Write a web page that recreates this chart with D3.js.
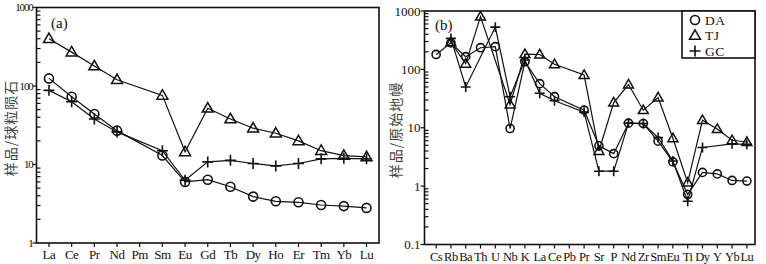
<!DOCTYPE html>
<html>
<head>
<meta charset="utf-8">
<script src="https://d3js.org/d3.v7.min.js"></script>
<style>
  body { margin: 0; background: #fff; }
  svg text { font-family: "Liberation Serif", "Times New Roman", serif; fill: #111; }
  .cn { font-family: "Noto Sans CJK SC", sans-serif; }
</style>
</head>
<body>
<script>
// chondrite-normalised REE (panel a)
var reeCats = ["La","Ce","Pr","Nd","Pm","Sm","Eu","Gd","Tb","Dy","Ho","Er","Tm","Yb","Lu"];
var reeDA = [125, 73, 44, 27, null, 13, 6, 6.4, 5.2, 3.9, 3.4, 3.3, 3.05, 2.95, 2.8];
var reeTJ = [400, 270, 180, 120, null, 76, 14.5, 52, 38, 29, 25, 20, 15, 13, 12.5];
var reeGC = [88, 63, 38, 26, null, 15, 6.3, 10.8, 11.3, 10.3, 9.6, 10.3, 11.8, 12, 11.8];

// primitive-mantle-normalised spider (panel b)
var spCats = ["Cs","Rb","Ba","Th","U","Nb","K","La","Ce","Pb","Pr","Sr","P","Nd","Zr","Sm","Eu","Ti","Dy","Y","Yb","Lu"];
var spDA = [180, 285, 165, 235, 245, 9.7, 135, 57, 34, null, 20, 4.9, 3.6, 12, 11.8, 5.9, 2.6, 0.72, 1.72, 1.62, 1.25, 1.22];
var spTJ = [null, 290, 125, 800, null, 25, 182, 180, 122, null, 80, 4, 27, 55, 20, 33, 6.6, 1.15, 13.5, 9.5, 6.1, 5.7];
var spGC = [null, 340, 50, null, 530, 34, 145, 39, 29, null, 18.5, 1.8, 1.8, 12, 11.8, 6.8, 2.7, 0.55, 4.6, null, 5.3, 5.2];

var legendNames = ["DA", "TJ", "GC"];

var width = 766, height = 264;

var svg = d3.select("body").append("svg")
  .attr("width", width)
  .attr("height", height);

// marker drawing
function marker(g, kind, x, y, s) {
  if (kind == "circle") {
    g.append("circle").attr("cx", x).attr("cy", y).attr("r", s * 0.45)
      .attr("fill", "none").attr("stroke", "#111").attr("stroke-width", 1.6);
  } else if (kind == "triangle") {
    var h = s * 0.95;
    g.append("path")
      .attr("d", "M" + x + "," + (y - h * 0.6) + "L" + (x + s * 0.55) + "," + (y + h * 0.4) + "L" + (x - s * 0.55) + "," + (y + h * 0.4) + "Z")
      .attr("fill", "none").attr("stroke", "#111").attr("stroke-width", 1.5);
  } else {
    g.append("path")
      .attr("d", "M" + (x - s * 0.55) + "," + y + "H" + (x + s * 0.55) + "M" + x + "," + (y - s * 0.55) + "V" + (y + s * 0.55))
      .attr("stroke", "#111").attr("stroke-width", 1.6);
  }
}

function drawPanel(p) {
  var g = svg.append("g");

  var x = d3.scalePoint().domain(p.cats).range([p.x0, p.x1]).padding(p.pad);
  var y = d3.scaleLog().domain(p.domain).range([p.y1, p.y0]);

  // frame
  g.append("rect")
    .attr("x", p.fx0).attr("y", p.y0)
    .attr("width", p.fx1 - p.fx0).attr("height", p.y1 - p.y0)
    .attr("fill", "none").attr("stroke", "#111").attr("stroke-width", 1.6);

  // y axis: major ticks outward, minor ticks inward
  var majors = y.ticks().filter(function(d) { return Math.abs(Math.log10(d) - Math.round(Math.log10(d))) < 1e-6; });
  var minors = y.ticks().filter(function(d) { return majors.indexOf(d) < 0; });

  g.selectAll(".ymaj").data(majors).enter().append("line")
    .attr("x1", p.fx0 - 4).attr("x2", p.fx0)
    .attr("y1", function(d) { return y(d); }).attr("y2", function(d) { return y(d); })
    .attr("stroke", "#111").attr("stroke-width", 1.2);

  g.selectAll(".ymin").data(minors).enter().append("line")
    .attr("x1", p.fx0).attr("x2", p.fx0 + 4)
    .attr("y1", function(d) { return y(d); }).attr("y2", function(d) { return y(d); })
    .attr("stroke", "#111").attr("stroke-width", 1.2);

  g.selectAll(".ylab").data(majors).enter().append("text")
    .attr("x", p.fx0 - 4).attr("y", function(d) { return y(d); })
    .attr("dy", "0.35em")
    .attr("text-anchor", "end")
    .style("font-size", p.yFont + "px")
    .style("letter-spacing", p.ySpace + "px")
    .text(function(d) { return d3.format("~g")(d); });

  // x ticks and labels
  g.selectAll(".xt").data(p.cats).enter().append("line")
    .attr("x1", function(d) { return x(d); }).attr("x2", function(d) { return x(d); })
    .attr("y1", p.y1).attr("y2", p.y1 + 4)
    .attr("stroke", "#111").attr("stroke-width", 1.2);

  g.selectAll(".xl").data(p.cats).enter().append("text")
    .attr("x", function(d) { return x(d); })
    .attr("y", p.y1 + 16)
    .attr("text-anchor", "middle")
    .style("font-size", p.xFont + "px")
    .style("letter-spacing", "-0.5px")
    .text(function(d) { return d; });

  // y title
  g.append("text")
    .attr("class", "cn")
    .attr("transform", "translate(" + p.titleX + "," + p.titleY + ") rotate(-90)")
    .attr("text-anchor", "middle")
    .attr("dy", "0.35em")
    .style("font-size", "14px")
    .style("fill", "#444")
    .style("letter-spacing", "1px")
    .text(p.title);

  // panel tag
  g.append("text")
    .attr("x", p.tagX).attr("y", p.tagY)
    .style("font-size", "15px")
    .text(p.tag);

  // series
  var line = d3.line().x(function(d) { return x(d.c); }).y(function(d) { return y(d.v); });
  p.series.forEach(function(s) {
    var pts = p.cats.map(function(c, i) { return { c: c, v: s.values[i] }; })
      .filter(function(d) { return d.v != null; });
    g.append("path").datum(pts)
      .attr("d", line)
      .attr("fill", "none").attr("stroke", "#111").attr("stroke-width", 1.2);
    var mg = g.append("g");
    pts.forEach(function(d) { marker(mg, s.kind, x(d.c), y(d.v), p.msize); });
  });

  return g;
}

drawPanel({
  cats: reeCats, domain: [1, 1000],
  x0: 36.5, x1: 379, pad: 0.55,
  fx0: 36.5, fx1: 379, y0: 7.5, y1: 243,
  yFont: 11, ySpace: -1.2, xFont: 13,
  title: "样品/球粒陨石", titleX: 11, titleY: 128,
  tag: "(a)", tagX: 51, tagY: 28,
  msize: 10,
  series: [
    { kind: "triangle", values: reeTJ },
    { kind: "circle", values: reeDA },
    { kind: "plus", values: reeGC }
  ]
});

drawPanel({
  cats: spCats, domain: [0.1, 1000],
  x0: 426.5, x1: 756.5, pad: 0.65,
  fx0: 424.5, fx1: 755, y0: 11, y1: 244.5,
  yFont: 13, ySpace: 0, xFont: 12.5,
  title: "样品/原始地幔", titleX: 396, titleY: 130,
  tag: "(b)", tagX: 435, tagY: 30,
  msize: 9,
  series: [
    { kind: "triangle", values: spTJ },
    { kind: "circle", values: spDA },
    { kind: "plus", values: spGC }
  ]
});

// legend box
var leg = svg.append("g");
leg.append("rect")
  .attr("x", 682).attr("y", 11).attr("width", 73).attr("height", 47)
  .attr("fill", "#fff").attr("stroke", "#111").attr("stroke-width", 1.6);
var legKinds = ["circle", "triangle", "plus"];
legendNames.forEach(function(n, i) {
  var ly = 20 + i * 15.5;
  marker(leg, legKinds[i], 695, ly, 10);
  leg.append("text")
    .attr("x", 705).attr("y", ly).attr("dy", "0.35em")
    .style("font-size", "13.5px")
    .style("letter-spacing", "0.5px")
    .text(n);
});
</script>
</body>
</html>
